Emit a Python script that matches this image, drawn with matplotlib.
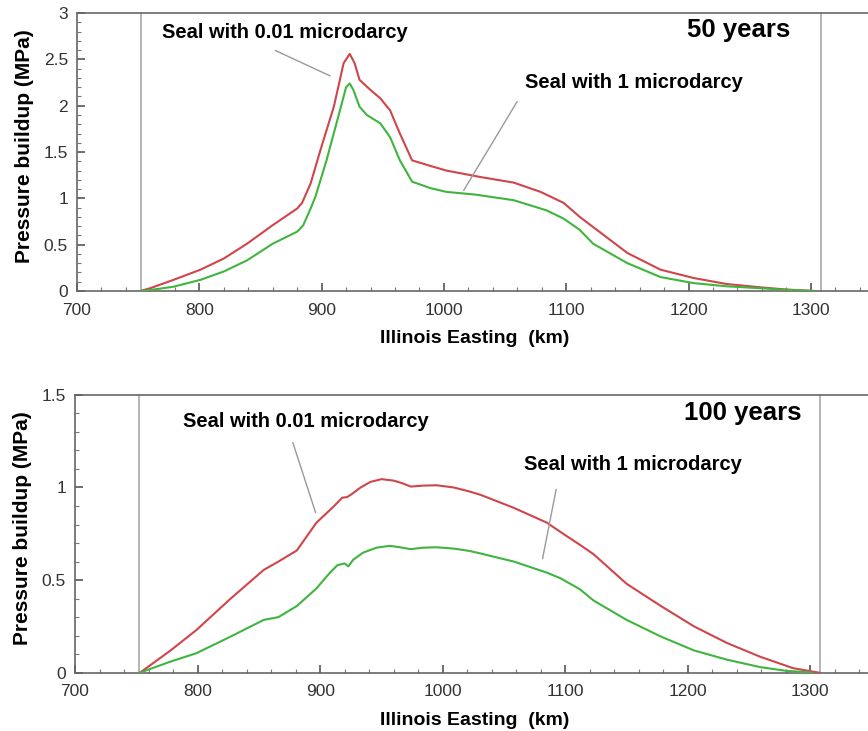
import numpy as np
import matplotlib
matplotlib.use("Agg")
import matplotlib.pyplot as plt
from matplotlib.ticker import MultipleLocator

plt.rcParams['font.family'] = ['Liberation Sans', 'DejaVu Sans']

# 50 years -- pressure buildup (MPa) along Illinois Easting (km)
x50_red = [752, 760, 779, 801, 820, 839, 860, 880, 884, 891, 899, 910, 918, 923, 927, 931,
           940, 948, 956, 964, 974, 989, 1002, 1030, 1057, 1079, 1098, 1111, 1122, 1150,
           1177, 1204, 1231, 1258, 1280, 1302]
p50_red = [0, 0.03, 0.12, 0.23, 0.35, 0.51, 0.71, 0.89, 0.95, 1.16, 1.52, 1.99, 2.46, 2.56,
           2.46, 2.28, 2.17, 2.08, 1.95, 1.70, 1.41, 1.35, 1.30, 1.23, 1.17, 1.07, 0.95, 0.80,
           0.69, 0.41, 0.23, 0.14, 0.075, 0.04, 0.015, 0]
x50_green = [752, 760, 779, 801, 820, 839, 860, 880, 885, 891, 895, 904, 915, 920, 923, 926,
             931, 937, 948, 956, 964, 974, 989, 1002, 1026, 1057, 1084, 1098, 1111, 1122,
             1150, 1177, 1204, 1231, 1258, 1280, 1302]
p50_green = [0, 0.01, 0.046, 0.12, 0.21, 0.33, 0.51, 0.64, 0.71, 0.89, 1.02, 1.41, 1.95, 2.20,
             2.24, 2.17, 1.99, 1.90, 1.81, 1.66, 1.41, 1.18, 1.11, 1.07, 1.04, 0.98, 0.87,
             0.78, 0.66, 0.51, 0.30, 0.15, 0.085, 0.05, 0.03, 0.012, 0]

# 100 years
x100_red = [753, 778, 799, 827, 854, 866, 881, 897, 911, 918, 922, 926, 933, 941, 950, 960,
            967, 974, 984, 995, 1009, 1022, 1031, 1058, 1085, 1096, 1112, 1123, 1150, 1178,
            1205, 1232, 1259, 1286, 1307]
p100_red = [0, 0.12, 0.23, 0.40, 0.555, 0.60, 0.66, 0.81, 0.897, 0.945, 0.948, 0.965, 1.00,
            1.03, 1.045, 1.037, 1.023, 1.005, 1.01, 1.012, 1.00, 0.978, 0.96, 0.89, 0.81, 0.76,
            0.69, 0.64, 0.48, 0.36, 0.25, 0.16, 0.086, 0.024, 0]
x100_green = [753, 778, 799, 827, 854, 866, 881, 897, 908, 914, 920, 923, 927, 935, 946, 957,
              967, 974, 984, 995, 1009, 1022, 1030, 1058, 1085, 1096, 1112, 1123, 1150, 1178,
              1205, 1232, 1259, 1280, 1302]
p100_green = [0, 0.06, 0.105, 0.195, 0.285, 0.30, 0.36, 0.455, 0.54, 0.58, 0.59, 0.574, 0.61,
              0.648, 0.675, 0.685, 0.675, 0.667, 0.675, 0.677, 0.67, 0.657, 0.645, 0.60, 0.54,
              0.51, 0.45, 0.39, 0.285, 0.195, 0.12, 0.07, 0.03, 0.01, 0]

domain_edges = [752, 1308]
RED = '#d0454a'
GREEN = '#3fb53f'
LOW_K = 'Seal with 0.01 microdarcy'
HIGH_K = 'Seal with 1 microdarcy'

# the axes run on past the right edge of the figure (x up to 1360 km)
panels = [
    dict(rect=[0.0887, 0.602, 0.930, 0.380], ymax=3, xr=x50_red, yr=p50_red, xg=x50_green, yg=p50_green,
         title='50 years', title_xy=(1283, 2.82), xlab_x=0.493,
         lab_low=((870, 2.79), (860, 2.61), (909, 2.31)),
         lab_high=((1155, 2.25), (1061, 2.07), (1015, 1.06))),
    dict(rect=[0.0864, 0.0798, 0.932, 0.380], ymax=1.5, xr=x100_red, yr=p100_red, xg=x100_green, yg=p100_green,
         title='100 years', title_xy=(1293, 1.40), xlab_x=0.494,
         lab_low=((888, 1.354), (877, 1.257), (897, 0.85)),
         lab_high=((1155, 1.122), (1093, 1.005), (1081, 0.60))),
]

fig = plt.figure(figsize=(8.68, 7.31), dpi=100)

for p in panels:
    ax = fig.add_axes(p['rect'])
    ax.set_xlim(700, 1360)
    ax.set_ylim(0, p['ymax'])
    for xe in domain_edges:
        ax.axvline(xe, color='#a8a8a8', lw=1.2, zorder=1)
    ax.plot(p['xr'], p['yr'], color=RED, lw=1.5, zorder=3)
    ax.plot(p['xg'], p['yg'], color=GREEN, lw=1.5, zorder=3)

    ax.xaxis.set_major_locator(MultipleLocator(100))
    ax.xaxis.set_minor_locator(MultipleLocator(20))
    ax.yaxis.set_major_locator(MultipleLocator(0.5))
    ax.yaxis.set_minor_locator(MultipleLocator(0.1))
    ax.yaxis.set_major_formatter(plt.FuncFormatter(lambda v, _: ('%g' % v)))
    ax.tick_params(which='major', direction='in', length=6, width=1.2, color='#555555',
                   labelsize=12.5, labelcolor='#333333')
    ax.tick_params(axis='x', which='major', pad=8.5)
    ax.tick_params(axis='y', which='major', pad=6.5)
    ax.tick_params(which='minor', direction='in', length=3, width=0.8, color='#777777')
    ax.tick_params(top=False, right=False, which='both')
    for s in ax.spines.values():
        s.set_color('#666666')
        s.set_linewidth(1.2)

    ax.set_ylabel('Pressure buildup (MPa)', fontsize=15, fontweight='bold')
    ax.yaxis.set_label_coords(-0.0535, 0.522)
    ax.set_xlabel('Illinois Easting  (km)', fontsize=14, fontweight='bold')
    ax.xaxis.set_label_coords(p['xlab_x'], -0.141)

    ax.text(*p['title_xy'], p['title'], fontsize=18.5, fontweight='bold', ha='right', va='center')

    for name, (txy, a, b) in ((LOW_K, p['lab_low']), (HIGH_K, p['lab_high'])):
        ax.text(*txy, name, fontsize=14.5, fontweight='bold', ha='center', va='center')
        ax.annotate('', xy=b, xytext=a,
                    arrowprops=dict(arrowstyle='-', color='#999999', lw=1.0))

fig.savefig('out.png', dpi=100)
